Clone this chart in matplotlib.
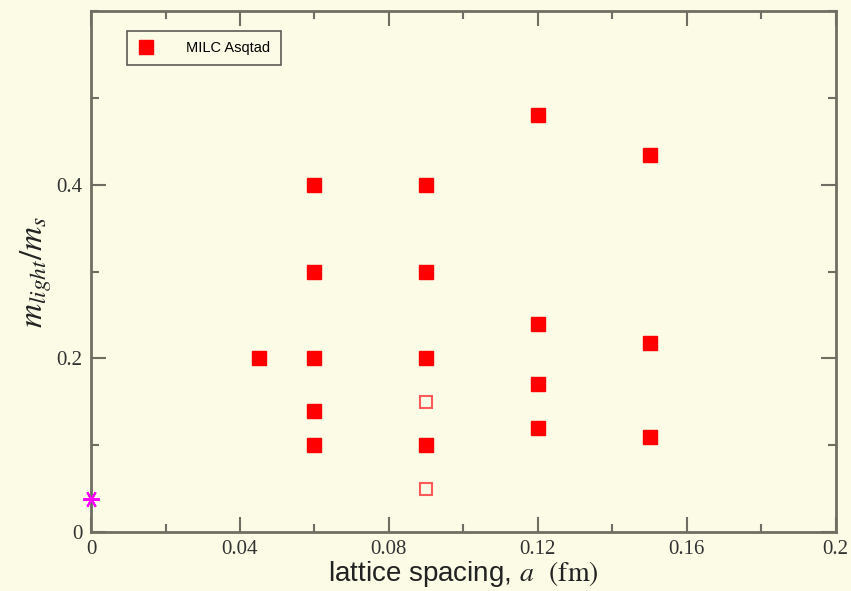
import matplotlib.pyplot as plt
from matplotlib.ticker import MultipleLocator

# filled points (MILC Asqtad ensembles)
a_filled = [0.06, 0.06, 0.06, 0.06, 0.06, 0.09, 0.09, 0.09, 0.09,
            0.12, 0.12, 0.12, 0.12, 0.15, 0.15, 0.15]
r_filled = [0.4, 0.3, 0.2, 0.14, 0.1, 0.4, 0.3, 0.2, 0.1,
            0.48, 0.24, 0.17, 0.12, 0.435, 0.218, 0.109]
# finest ensemble, drawn a bit bigger
a_fine = [0.045]
r_fine = [0.2]
# open points
a_open = [0.09, 0.09]
r_open = [0.15, 0.05]
# physical point
a_phys = [0.0]
r_phys = [0.038]

bg = '#fbfbe6'
spine = '#6e6e62'

plt.rcParams['mathtext.fontset'] = 'stix'

fig = plt.figure(figsize=(8.51, 5.91), dpi=100, facecolor=bg)
ax = fig.add_axes([0.107, 0.0998, 0.875, 0.881])
ax.set_facecolor(bg)

ax.plot(a_filled, r_filled, 's', color='#ff0000', markersize=9.5, label='MILC Asqtad', zorder=3)
ax.plot(a_fine, r_fine, 's', color='#ff0000', markersize=10.5, zorder=3)
ax.plot(a_open, r_open, 's', markerfacecolor='none', markeredgecolor='#ff5a5a',
        markersize=8.5, markeredgewidth=1.5, zorder=3)
ax.plot(a_phys, r_phys, marker=(6, 2, 90), color='#ff00ff', markersize=12,
        markeredgewidth=1.5, linestyle='none', clip_on=False, zorder=4)

ax.set_xlim(0, 0.2)
ax.set_ylim(0, 0.6)
ax.xaxis.set_minor_locator(MultipleLocator(0.02))
ax.yaxis.set_minor_locator(MultipleLocator(0.1))
ax.set_xticks([0, 0.04, 0.08, 0.12, 0.16, 0.2])
ax.set_xticklabels(['0', '0.04', '0.08', '0.12', '0.16', '0.2'])
ax.set_yticks([0, 0.2, 0.4])
ax.set_yticklabels(['0', '0.2', '0.4'])

ax.tick_params(which='both', direction='in', top=True, right=True, color=spine,
               width=1.5, labelsize=15, labelcolor='#333333', labelfontfamily='Liberation Serif')
ax.tick_params(which='major', length=11, pad=6)
ax.tick_params(which='minor', length=6)
for s in ax.spines.values():
    s.set_color(spine)
    s.set_linewidth(2)

ax.set_xlabel(r'lattice spacing, $a$  $\mathrm{(fm)}$', fontsize=20,
              fontfamily='Liberation Sans', color='#222222', labelpad=0)
ax.set_ylabel(r'$m_{light}/m_s$', fontsize=24, color='#222222', labelpad=2)

leg = ax.legend(loc='upper left', bbox_to_anchor=(0.038, 0.977), frameon=True,
                fancybox=False, handletextpad=2.2, borderpad=0.7, handlelength=1.2,
                prop={'family': 'Liberation Sans', 'size': 10.5})
leg.get_frame().set_edgecolor('#333333')
leg.get_frame().set_facecolor(bg)
leg.get_frame().set_linewidth(1.2)

fig.savefig('out.png', dpi=100, facecolor=bg)
